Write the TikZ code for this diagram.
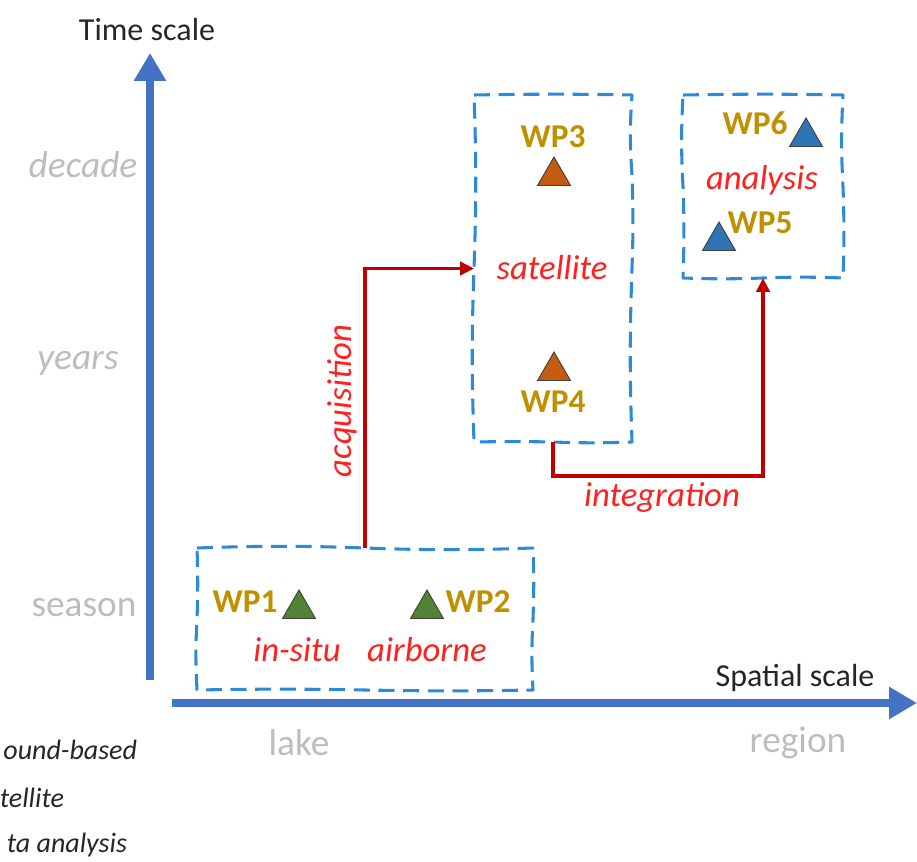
\documentclass[tikz,border=0pt]{standalone}
\usepackage{fontspec}
\setmainfont{Carlito}
\usetikzlibrary{arrows.meta,shapes.geometric}
\definecolor{axisblue}{HTML}{4472C4}
\definecolor{boxblue}{HTML}{2F8AD6}
\definecolor{linkred}{HTML}{C00000}
\definecolor{labred}{HTML}{FF2020}
\definecolor{wpgold}{HTML}{BF9000}
\definecolor{tickgray}{HTML}{BDBDBD}
\definecolor{wpgreen}{HTML}{548235}
\definecolor{wporange}{HTML}{C55A11}
\definecolor{wpblue}{HTML}{2E75B6}
\definecolor{titlegray}{HTML}{262626}
\begin{document}
\begin{tikzpicture}[x=0.75pt,y=-0.75pt,
  txt/.style={inner sep=0pt, outer sep=0pt},
  axistitle/.style={txt, text=titlegray, font=\fontsize{24}{26}\selectfont},
  tick/.style={txt, text=tickgray, font=\fontsize{28}{30}\selectfont\itshape},
  tickup/.style={txt, text=tickgray, font=\fontsize{28}{30}\selectfont},
  wplabel/.style={txt, text=wpgold, font=\fontsize{25}{27}\selectfont\bfseries},
  redlab/.style={txt, text=labred, font=\fontsize{26}{28}\selectfont\itshape},
  legend/.style={txt, text=black!85, font=\fontsize{21}{23}\selectfont\itshape, anchor=east},
  wp/.style={regular polygon, regular polygon sides=3, minimum size=28.5pt, inner sep=0pt, draw=black!75, line width=0.7pt},
  region/.style={rectangle, inner sep=0pt, outer sep=0pt},
  wavy/.style={draw=boxblue, line width=2.3pt, dash pattern=on 12pt off 6.5pt, line join=round},
  axis/.style={draw=axisblue, line width=6pt, -{Triangle[length=21pt, width=23pt]}},
  link/.style={draw=linkred, line width=2.6pt, -{Triangle[length=10.5pt, width=10pt]}}
]
\useasboundingbox (0,0) rectangle (917,862);

% axes
\coordinate (ybot) at (150,680);
\coordinate (ytop) at (150,53);
\coordinate (xleft) at (172,703);
\coordinate (xright) at (917,703);
\draw[axis] (ybot) -- (ytop);
\draw[axis] (xleft) -- (xright);
\node[axistitle] (tscale) at (147,30) {Time scale};
\node[axistitle] (sscale) at (795,678) {Spatial scale};

% ticks
\node[tick] (decade) at (83,165) {decade};
\node[tick] (years) at (78,363) {years};
\node[tickup] (season) at (84,608) {season};
\node[tickup] (lake) at (299,743) {lake};
\node[tickup] (regionlab) at (798,743) {region};

% legend (partly outside the picture in the reference)
\node[legend] (lg1) at (137,750) {ound-based};
\node[legend] (lg2) at (64,798) {tellite};
\node[legend] (lg3) at (127,845) {ta analysis};

% boxes
\node[region, minimum width=252pt, minimum height=106.5pt] (b1) at (365,619) {};
\node[region, minimum width=118.5pt, minimum height=260.25pt] (sat) at (553,268.5) {};
\node[region, minimum width=120pt, minimum height=137.25pt] (ana) at (763,186.5) {};
\draw[wavy] (b1.north west) to[bend left=2] (b1.north) to[bend right=2] (b1.north east)
  to[bend left=2] (b1.east) to[bend right=3] (b1.south east)
  to[bend left=1] (b1.south) to[bend right=1] (b1.south west)
  to[bend left=3] (b1.west) to[bend right=2] cycle;
\draw[wavy] (sat.north west) to[bend left=1] (sat.north east)
  to[bend right=4] ([yshift=-60pt]sat.north east) to[bend left=2] (sat.east)
  to[bend right=2] (sat.south east)
  to[bend left=2] (sat.south) to[bend right=1] (sat.south west)
  to[bend left=2] (sat.west) to[bend right=2] cycle;
\draw[wavy] (ana.north west) to[bend left=1] (ana.north east)
  to[bend right=3] (ana.east) to[bend left=2] (ana.south east)
  to[bend right=2] (ana.south) to[bend left=2] (ana.south west)
  to[bend right=2] (ana.west) to[bend left=3] cycle;

% triangles
\node[wp, fill=wpgreen] (t1) at (299,609) {};
\node[wp, fill=wpgreen] (t2) at (427,609) {};
\node[wp, fill=wporange] (t3) at (554,176) {};
\node[wp, fill=wporange] (t4) at (554,371) {};
\node[wp, fill=wpblue] (t6) at (806,137) {};
\node[wp, fill=wpblue] (t5) at (719,241) {};

% WP labels
\node[wplabel] (wp1) at (245,602) {WP1};
\node[wplabel] (wp2) at (478,602) {WP2};
\node[wplabel] (wp3) at (553,137) {WP3};
\node[wplabel] (wp4) at (553,402) {WP4};
\node[wplabel] (wp6) at (755,123) {WP6};
\node[wplabel] (wp5) at (760,223) {WP5};

% red labels
\node[redlab] (insitu) at (297,650) {in-situ};
\node[redlab] (airborne) at (427,650) {airborne};
\node[redlab] (satlab) at (552,268) {satellite};
\node[redlab] (analab) at (762,180) {analysis};

% connectors
\draw[link] (b1.north) |- (sat.west);
\draw[link] (sat.south) -- ++(0,34) -| (ana.south);
\node[redlab, rotate=90] (acq) at (342,401) {acquisition};
\node[redlab] (integ) at (662,497) {integration};
\end{tikzpicture}
\end{document}
